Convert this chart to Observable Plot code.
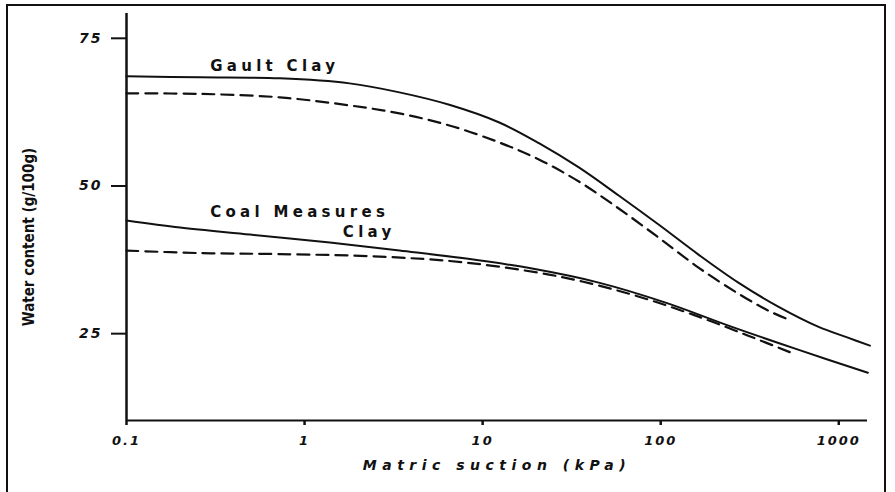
<!DOCTYPE html>
<html><head><meta charset="utf-8">
<script src="https://cdn.jsdelivr.net/npm/d3@7"></script>
<script src="https://cdn.jsdelivr.net/npm/@observablehq/plot@0.6"></script>
<style>
html,body{margin:0;padding:0;background:#fff;}
#wrap{position:relative;width:895px;height:492px;overflow:hidden;}
#chart{position:absolute;left:0;top:0;}
#border{position:absolute;left:6px;top:4px;width:880px;height:520px;border:2px solid #111;box-sizing:border-box;pointer-events:none;}
</style></head><body>
<div id="wrap"><div id="chart"></div><div id="border"></div></div>
<script>
// Matric suction (kPa) and water content (g/100g)
const gaultSolidX = [0.1, 0.259, 0.727, 1.79, 3.41, 6.5, 12.4, 20.7, 34.7, 58.1, 97.3, 163, 273, 457, 765, 1125, 1496];
const gaultSolidY = [68.56, 68.39, 68.22, 67.37, 65.85, 63.75, 60.75, 57.25, 53.14, 48.39, 43.47, 38.39, 33.64, 29.58, 26.19, 24.32, 22.97];
const gaultDashedX = [0.1, 0.259, 0.727, 1.79, 3.41, 6.5, 12.4, 20.7, 34.7, 58.1, 97.3, 163, 273, 402, 540];
const gaultDashedY = [65.68, 65.59, 65.0, 63.64, 62.29, 60.25, 57.37, 54.49, 50.76, 46.19, 41.27, 36.19, 31.78, 28.90, 27.20];
const coalSolidX = [0.1, 0.2, 0.494, 1.386, 3.41, 8.09, 18.95, 44.9, 106.5, 249, 591, 1457];
const coalSolidY = [44.15, 42.97, 41.78, 40.42, 39.07, 37.71, 36.02, 33.64, 30.25, 26.19, 22.29, 18.39];
const coalDashedX = [0.1, 0.259, 0.727, 2.64, 8.09, 23.6, 44.9, 85.5, 163, 310, 540];
const coalDashedY = [39.07, 38.64, 38.47, 38.05, 37.03, 35.0, 33.14, 30.76, 27.88, 24.66, 21.78];

const xTicks = [0.1, 1, 10, 100, 1000];
const xTickLabels = ["0.1", "1", "10", "100", "1000"];
const yTicks = [25, 50, 75];

const curveLabels = ["Gault Clay", "Coal Measures", "Clay"];
const curveLabelX = [0.295, 0.295, 1.64];
const curveLabelY = [70.3, 45.6, 42.2];

const xTitle = "Matric suction (kPa)";
const yTitle = "Water content (g/100g)";

const xMin = 0.1, xMax = 1450, yMin = 10.3, yMax = 79.2;

const lineOpts = {curve: "catmull-rom", stroke: "#111", strokeWidth: 2};

const chart = Plot.plot({
  width: 895,
  height: 492,
  marginLeft: 126,
  marginRight: 28,
  marginTop: 13,
  marginBottom: 72,
  style: {fontFamily: "DejaVu Sans", color: "#111", background: "transparent"},
  x: {type: "log", domain: [xMin, xMax]},
  y: {domain: [yMin, yMax]},
  marks: [
    Plot.axisX(xTicks, {
      tickFormat: d => xTickLabels[xTicks.indexOf(d)],
      tickSize: 5, tickPadding: 10, strokeWidth: 2.5,
      fontSize: 13, fontWeight: "bold", fontStyle: "italic", label: null
    }),
    Plot.axisY(yTicks, {
      tickSize: 15, tickPadding: 9, strokeWidth: 2,
      fontSize: 14, fontWeight: "bold", fontStyle: "italic", label: null
    }),
    Plot.ruleY([yMin], {stroke: "#111", strokeWidth: 2}),
    Plot.ruleX([xMin], {stroke: "#111", strokeWidth: 2.5}),
    Plot.line(gaultSolidY, {x: gaultSolidX, y: gaultSolidY, ...lineOpts}),
    Plot.line(gaultDashedY, {x: gaultDashedX, y: gaultDashedY, ...lineOpts, strokeWidth: 2.2, strokeDasharray: "12,7"}),
    Plot.line(coalSolidY, {x: coalSolidX, y: coalSolidY, ...lineOpts}),
    Plot.line(coalDashedY, {x: coalDashedX, y: coalDashedY, ...lineOpts, strokeWidth: 2.2, strokeDasharray: "12,7"}),
    Plot.text(curveLabels, {
      x: curveLabelX, y: curveLabelY, text: d => d,
      textAnchor: "start", fontSize: 15, fontWeight: "bold", className: "curve-label"
    }),
    Plot.text([xTitle], {
      frameAnchor: "bottom", dy: 49, text: d => d,
      fontSize: 14, fontWeight: "bold", fontStyle: "italic", className: "x-title"
    }),
    Plot.text([yTitle], {
      frameAnchor: "left", textAnchor: "middle", dx: -97, dy: 20, rotate: -90, text: d => d,
      fontSize: 15, fontWeight: "bold", className: "y-title"
    })
  ]
});
const svg = d3.select(chart);
svg.selectAll("g[aria-label='x-axis tick label'] text, g[aria-label='y-axis tick label'] text").attr("letter-spacing", "2px");
svg.selectAll(".curve-label text").attr("letter-spacing", "4.3px");
svg.selectAll(".x-title text").attr("letter-spacing", "5.5px");
svg.selectAll(".y-title text").attr("font-family", "'DejaVu Sans Condensed', 'Liberation Sans Narrow', sans-serif").attr("font-stretch", "condensed");
document.getElementById("chart").appendChild(chart);
</script>
</body></html>
